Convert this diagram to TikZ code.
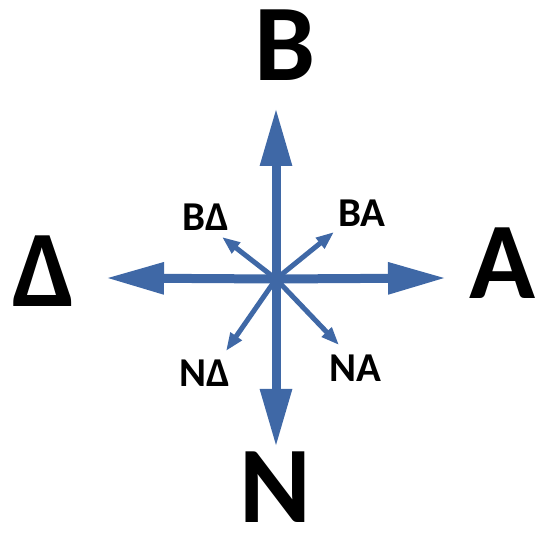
\documentclass[tikz,border=0pt]{standalone}
\usepackage{fontspec}
\setmainfont{Carlito}
\usetikzlibrary{arrows.meta}
\definecolor{arrowblue}{HTML}{3F68A6}
\begin{document}
\begin{tikzpicture}[x=1pt,y=-1pt,
  bigarrow/.style={draw=arrowblue,line width=9pt,-{Triangle[length=58pt,width=30pt,fill=arrowblue]}},
  smallarrow/.style={draw=arrowblue,line width=5pt,-{Triangle[length=18pt,width=13pt,fill=arrowblue]}},
  biglabel/.style={font=\fontsize{109}{109}\selectfont\bfseries,inner sep=0pt,text=black},
  smalllabel/.style={font=\fontsize{41}{41}\selectfont\bfseries,inner sep=0pt,text=black}]
\useasboundingbox (0,0) rectangle (536,534);
\coordinate (c) at (276,279);
\coordinate (up) at (276,108);
\coordinate (down) at (276,447);
\coordinate (left) at (106,278);
\coordinate (right) at (446,278);
\coordinate (ul) at (222,237);
\coordinate (ur) at (334,232);
\coordinate (dl) at (226,351);
\coordinate (dr) at (339,345);
\draw[bigarrow] (c) -- (up);
\draw[bigarrow] (c) -- (down);
\draw[bigarrow] (c) -- (left);
\draw[bigarrow] (c) -- (right);
\draw[smallarrow] (c) -- (ul);
\draw[smallarrow] (c) -- (ur);
\draw[smallarrow] (c) -- (dl);
\draw[smallarrow] (c) -- (dr);
\node[biglabel] (B) at (285,45) {B};
\node[biglabel] (D) at (44,271) {Δ};
\node[biglabel] (A) at (503,263) {A};
\node[biglabel] (N) at (275,487) {N};
\node[smalllabel] (BD) at (206,217) {BΔ};
\node[smalllabel] (BA) at (362,213) {BA};
\node[smalllabel] (ND) at (205,373) {NΔ};
\node[smalllabel] (NA) at (355,368) {NA};
\end{tikzpicture}
\end{document}
